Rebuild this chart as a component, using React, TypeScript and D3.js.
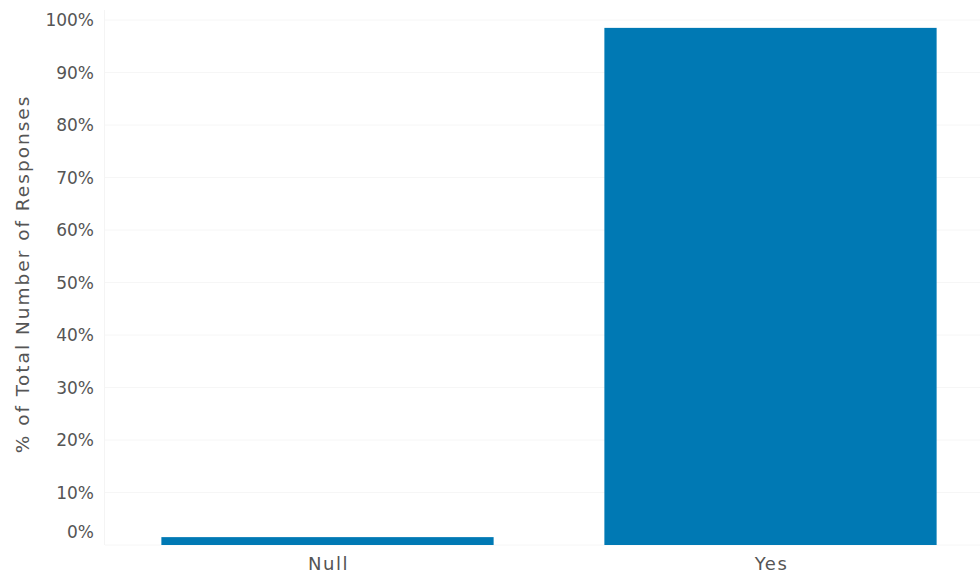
import React from "react";
import * as d3 from "d3";

const categories = ["Null", "Yes"];
const values = [1.5, 98.5];
const yTicks = [0, 10, 20, 30, 40, 50, 60, 70, 80, 90, 100];
const yTitle = "% of Total Number of Responses";

const W = 980;
const H = 575;
const FONT = "'DejaVu Sans', sans-serif";

export default function App() {
  const y = d3.scaleLinear().domain([0, 100]).range([545, 20]);
  const x = d3
    .scaleBand<string>()
    .domain(categories)
    .range([106, 992])
    .paddingInner(0.25)
    .paddingOuter(0.125);
  const bottom = y(0);

  return (
    <div style={{ position: "absolute", left: 0, top: 0 }}>
      <svg width={W} height={H} style={{ display: "block", background: "#fff" }}>
        {yTicks.map((t) => (
          <line
            key={"g" + t}
            x1={105}
            x2={W}
            y1={y(t)}
            y2={y(t)}
            stroke="#f6f6f6"
            strokeWidth={1}
          />
        ))}
        <line x1={104.5} x2={104.5} y1={10} y2={bottom} stroke="#f4f4f4" strokeWidth={1} />
        {categories.map((c, i) => (
          <rect
            key={c}
            x={x(c)}
            y={y(values[i])}
            width={x.bandwidth()}
            height={bottom - y(values[i])}
            fill="#0079b4"
          />
        ))}
        {yTicks.map((t) => (
          <text
            key={"t" + t}
            x={94}
            y={Math.min(y(t), bottom - 13)}
            dy="0.36em"
            textAnchor="end"
            fontFamily={FONT}
            fontSize={17}
            fill="#555"
          >
            {t + "%"}
          </text>
        ))}
        {categories.map((c) => (
          <text
            key={"c" + c}
            x={(x(c) as number) + x.bandwidth() / 2 + 1}
            y={570}
            textAnchor="middle"
            fontFamily={FONT}
            fontSize={18}
            letterSpacing={1.5}
            fill="#555"
          >
            {c}
          </text>
        ))}
        <text
          transform={`translate(29, ${(93 + 455) / 2}) rotate(-90)`}
          textAnchor="middle"
          fontFamily={FONT}
          fontSize={18.5}
          letterSpacing={2}
          fill="#555"
        >
          {yTitle}
        </text>
      </svg>
    </div>
  );
}
